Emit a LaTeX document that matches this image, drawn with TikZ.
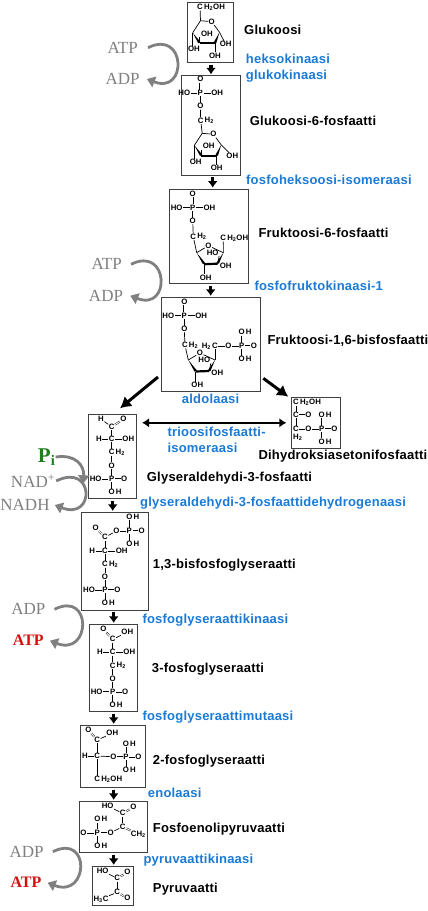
\documentclass[tikz,border=0pt]{standalone}
\usepackage{fontspec}
\setmainfont{Liberation Sans}
\newfontfamily\coffont{Liberation Serif}
\newfontfamily\namefont[LetterSpace=1.7]{Liberation Sans}
\usetikzlibrary{arrows.meta,positioning}
\definecolor{enzblue}{RGB}{26,122,214}
\definecolor{cofgray}{RGB}{128,128,128}
\definecolor{atpred}{RGB}{214,16,16}
\definecolor{pigreen}{RGB}{30,125,30}
\definecolor{boxgray}{RGB}{64,64,64}
\tikzset{
  molbox/.style={draw=boxgray,line width=0.8pt,inner sep=0pt},
  atom/.style={font=\bfseries\fontsize{7.8}{7.8}\selectfont,inner sep=0.4pt},
  bond/.style={line width=0.7pt},
  dbond/.style={line width=0.45pt,double,double distance=1pt},
  wedge/.style={fill=black,line width=0.2pt},
  bold/.style={line width=2.2pt},
  molname/.style={font=\namefont\bfseries\fontsize{13}{13}\selectfont,anchor=west,inner sep=0pt,text height=10.5pt,text depth=2.5pt},
  enzyme/.style={molname,text=enzblue},
  cofactor/.style={font=\coffont\fontsize{17}{17}\selectfont,text=cofgray,inner sep=0pt},
  atpout/.style={font=\coffont\bfseries\fontsize{16}{16}\selectfont,text=atpred,inner sep=0pt},
  cofcurve/.style={draw=cofgray,line width=2.8pt,-{Triangle[length=8pt,width=11pt]}},
  stepto/.style={line width=3.4pt,-{Latex[length=6.5pt,width=10pt]},shorten <=2pt,shorten >=1pt},
  splitto/.style={line width=3pt,-{Latex[length=11pt,width=13pt]}},
  bothto/.style={line width=2.6pt,{Latex[length=7pt,width=9.5pt]}-{Latex[length=7pt,width=9.5pt]}},
  pyranose/.pic={
    \coordinate (c5) at (0.5,0);
    \node[atom] (o) at (11.7,1) {O};
    \coordinate (c1) at (19.5,11.5);
    \coordinate (c2) at (15,22.6);
    \coordinate (c3) at (-0.5,22.6);
    \coordinate (c4) at (-7.3,12);
    \draw[bond] (c4) -- (c5) -- (o) -- (c1);
    \fill[wedge] (c4) -- ([xshift=-1.2]c3) -- ([xshift=1.2,yshift=1]c3) -- cycle;
    \draw[bold] (c3) -- (c2);
    \fill[wedge] (c1) -- ([xshift=1.2]c2) -- ([xshift=-1.2,yshift=1]c2) -- cycle;
    \node[atom] (oha) at (7,13) {OH};
    \node[atom] (ohb) at (-6,28.6) {OH};
    \node[atom] (ohc) at (15,35) {OH};
    \draw[bond] (c3) -- (c3 |- oha.south);
    \draw[bond] (c4) -- (c4 |- ohb.north);
    \draw[bond] (c2) -- (c2 |- ohc.north);
  },
  furanose/.pic={
    \coordinate (cl) at (0,0);
    \node[atom] (o) at (11.6,-7) {O};
    \coordinate (cbl) at (7.4,11.5);
    \coordinate (cbr) at (21,11);
    \coordinate (cr) at (26.7,0);
    \draw[bond] (cl) -- (o) -- (cr);
    \fill[wedge] (cl) -- ([xshift=-1.2]cbl) -- ([xshift=1.2,yshift=1]cbl) -- cycle;
    \draw[bold] (cbl) -- (cbr);
    \fill[wedge] (cr) -- ([xshift=1.2]cbr) -- ([xshift=-1.2,yshift=1]cbr) -- cycle;
    \node[atom] (ho) at (16,0) {HO};
    \node[atom] (oha) at (29,13) {OH};
    \node[atom] (ohb) at (9,25) {OH};
    \draw[bond] (cbr) -- (ho.south east);
    \draw[bond] (cbl) -- (cbl |- ohb.north);
  },
  phoshead/.pic={
    \node[atom] (p) at (0,0) {P};
    \node[atom] (dbo) at (0,-13.7) {O};
    \node[atom] (ho) at (-16,0) {HO};
    \node[atom] (oh) at (16.8,0) {OH};
    \node[atom] (o) at (0,13.3) {O};
    \draw[dbond] (p) -- (dbo);
    \draw[bond] (ho) -- (p);
    \draw[bond] (p) -- (oh);
    \draw[bond] (p) -- (o);
  },
  phostail/.pic={
    \node[atom] (p) at (0,0) {P};
    \node[atom] (o) at (0,-13.3) {O};
    \node[atom] (ho) at (-16,0) {HO};
    \node[atom] (dbo) at (12.5,0) {O};
    \node[atom] (oh) at (0,13.3) {O};
    \node[atom,right=0pt of oh] (ohh) {H};
    \draw[bond] (o) -- (p);
    \draw[bond] (ho) -- (p);
    \draw[dbond] (p) -- (dbo);
    \draw[bond] (p) -- (oh);
  },
}
\begin{document}
\begin{tikzpicture}[x=1pt,y=-1pt]
\useasboundingbox (0,0) rectangle (428,911);
\node[molbox,minimum width=46,minimum height=60] (glc) at (210.3,32.3) {};
\node[molbox,minimum width=59,minimum height=99.3] (gsp) at (211.2,125.4) {};
\node[molbox,minimum width=79,minimum height=94.3] (fsp) at (208.8,236.2) {};
\node[molbox,minimum width=98.6,minimum height=94.4] (fbox) at (211,344.5) {};
\node[molbox,minimum width=49,minimum height=51] (dhap) at (316.2,422.8) {};
\node[molbox,minimum width=48.4,minimum height=84] (gap) at (112.5,456.3) {};
\node[molbox,minimum width=66.6,minimum height=97.7] (bpg) at (115,561.2) {};
\node[molbox,minimum width=48,minimum height=87] (tpg) at (113.3,667.8) {};
\node[molbox,minimum width=65.4,minimum height=62] (dpg) at (113,756.3) {};
\node[molbox,minimum width=68,minimum height=51] (pep) at (113.3,826.8) {};
\node[molbox,minimum width=41.4,minimum height=39] (pyr) at (113,885.8) {};
\node[molname] (nglc) at (244,30) {Glukoosi};
\node[molname] (ngsp) at (249.7,121.3) {Glukoosi-6-fosfaatti};
\node[molname] (nfsp) at (258.3,233.3) {Fruktoosi-6-fosfaatti};
\node[molname] (nfbp) at (267.3,340.7) {Fruktoosi-1,6-bisfosfaatti};
\node[molname] (ndhap) at (258.3,455.3) {Dihydroksiasetonifosfaatti};
\node[molname] (ngap) at (146.7,477.3) {Glyseraldehydi-3-fosfaatti};
\node[molname] (nbpg) at (152.7,564) {1,3-bisfosfoglyseraatti};
\node[molname] (ntpg) at (151.7,668.3) {3-fosfoglyseraatti};
\node[molname] (ndpg) at (152.7,760) {2-fosfoglyseraatti};
\node[molname] (npep) at (152.7,828.3) {Fosfoenolipyruvaatti};
\node[molname] (npyr) at (152.7,888.3) {Pyruvaatti};
\node[enzyme] (eheks) at (245.7,59.3) {heksokinaasi};
\node[enzyme] (egluk) at (245.7,75.7) {glukokinaasi};
\node[enzyme] (efhi) at (246,180) {fosfoheksoosi-isomeraasi};
\node[enzyme] (efk) at (254.3,286.7) {fosfofruktokinaasi-1};
\node[enzyme] (eald) at (181.7,399) {aldolaasi};
\node[enzyme] (etia) at (167.3,432.3) {trioosifosfaatti-};
\node[enzyme] (etib) at (167.3,448.3) {isomeraasi};
\node[enzyme] (egapd) at (140,502.7) {glyseraldehydi-3-fosfaattidehydrogenaasi};
\node[enzyme] (epgk) at (142.3,619) {fosfoglyseraattikinaasi};
\node[enzyme] (epgm) at (142.3,716) {fosfoglyseraattimutaasi};
\node[enzyme] (eeno) at (147.7,793.3) {enolaasi};
\node[enzyme] (epk) at (143.3,859.3) {pyruvaattikinaasi};
\foreach \a/\b/\x in {glc/gsp/211,gsp/fsp/212.7,fsp/fbox/210.7,gap/bpg/112.7,bpg/tpg/113.7,tpg/dpg/113.7,dpg/pep/113.7,pep/pyr/113.7}
  \draw[stepto] (\x,0 |- \a.south) -- (\x,0 |- \b.north);
\coordinate (splitl) at (158,377);
\coordinate (splitr) at (263.3,378.3);
\draw[splitto] (splitl) -- (120,408.3);
\draw[splitto] (splitr) -- (288.3,396.7);
\draw[bothto,shorten <=5pt,shorten >=5pt] (gap.east |- dhap.west) -- (dhap.west);
\node[cofactor] (atpa) at (122.7,47.7) {ATP};
\node[cofactor] (adpa) at (122.7,79) {ADP};
\node[cofactor] (atpb) at (106.7,264.3) {ATP};
\node[cofactor] (adpb) at (106,295.7) {ADP};
\node[cofactor,text=pigreen,font=\coffont\bfseries\fontsize{21}{21}\selectfont] (pin) at (46.7,457) {P\textsubscript{i}};
\node[cofactor] (nad) at (33,481) {NAD\textsuperscript{+}};
\node[cofactor] (nadh) at (25,505) {NADH};
\node[cofactor] (adpc) at (28.3,609.3) {ADP};
\node[atpout] (atpc) at (28.3,640.7) {ATP};
\node[cofactor] (adpd) at (26.7,851.7) {ADP};
\node[atpout] (atpd) at (26,882.7) {ATP};
\foreach \a/\b/\sa/\sb in {atpa/adpa/10/7,atpb/adpb/9/7,nad/nadh/1/5,adpc/atpc/9/6,adpd/atpd/9/6}
  \draw[cofcurve] ([xshift=\sa]\a.east) .. controls +(38,-19) and +(41,16) .. ([xshift=\sb]\b.east);
\coordinate (pitip) at (83.3,483.3);
\draw[cofcurve] (pin.east) .. controls +(20,-3) and +(1,-18) .. (pitip);
\pic (ga) at (200,20.7) {pyranose};
\node[atom] (gac) at (200,7) {C};
\node[atom,right=0pt of gac] (gah) {H\textsubscript{2}OH};
\node[atom] (gaoh) at (225.7,44.3) {OH};
\draw[bond] (gac5) -- (gac);
\draw[bond] (gac1) -- (gaoh);
\pic (gb) at (200.3,93) {phoshead};
\node[atom] (gbc) at (200.7,120.7) {C};
\node[atom,right=0pt of gbc] (gbh) {H\textsubscript{2}};
\pic (gbr) at (201.7,133.3) {pyranose};
\node[atom] (gbs) at (232.3,156) {OH};
\draw[bond] (gbo) -- (gbc);
\draw[bond] (gbc) -- (gbrc5);
\draw[bond] (gbrc1) -- (gbs);
\pic (fa) at (192.7,207.7) {phoshead};
\node[atom] (fac) at (193.3,236.7) {C};
\node[atom,right=0pt of fac] (fah) {H\textsubscript{2}};
\pic (far) at (196.7,252.7) {furanose};
\node[atom] (fad) at (223.3,238.3) {C};
\node[atom,right=0pt of fad] (fae) {H\textsubscript{2}OH};
\draw[bond] (fao) -- (fac);
\draw[bond] (fac) -- (farcl);
\draw[bond] (farcr) -- (fad);
\pic (fc) at (184.3,315.7) {phoshead};
\node[atom] (fbc) at (184.9,345) {C};
\node[atom,right=0pt of fbc] (fbh) {H\textsubscript{2}};
\pic (fbr) at (188.3,360) {furanose};
\node[atom] (fbd) at (215,346) {C};
\node[atom,left=0pt of fbd] (fbe) {H\textsubscript{2}};
\node[atom] (fbo) at (228.3,346) {O};
\node[atom] (fbp) at (241.7,346) {P};
\node[atom] (fbq) at (254,346) {O};
\node[atom] (fbs) at (241.7,332.3) {O};
\node[atom,right=0pt of fbs] (fbt) {H};
\node[atom] (fbu) at (241.7,359) {O};
\node[atom,right=0pt of fbu] (fbv) {H};
\draw[bond] (fco) -- (fbc);
\draw[bond] (fbc) -- (fbrcl);
\draw[bond] (fbrcr) -- (fbd);
\draw[bond] (fbd) -- (fbo);
\draw[bond] (fbo) -- (fbp);
\draw[dbond] (fbp) -- (fbq);
\draw[bond] (fbs) -- (fbp);
\draw[bond] (fbp) -- (fbu);
\node[atom] (dc) at (296,402.3) {C};
\node[atom,right=0pt of dc] (dh) {H\textsubscript{2}OH};
\node[atom] (dd) at (296,415) {C};
\node[atom] (de) at (308.3,415) {O};
\node[atom] (df) at (321.7,415) {O};
\node[atom,right=0pt of df] (dfh) {H};
\node[atom] (dg) at (296,429) {C};
\node[atom] (dgh) at (297.7,437.7) {H\textsubscript{2}};
\node[atom] (do) at (308.3,429) {O};
\node[atom] (dp) at (321.7,429) {P};
\node[atom] (dq) at (334.3,429) {O};
\node[atom] (dr) at (321.7,441.7) {O};
\node[atom,right=0pt of dr] (drh) {H};
\draw[bond] (dc) -- (dd);
\draw[dbond] (dd) -- (de);
\draw[bond] (dd) -- (dg);
\draw[bond] (dg) -- (do);
\draw[bond] (do) -- (dp);
\draw[dbond] (dp) -- (dq);
\draw[bond] (df) -- (dp);
\draw[bond] (dp) -- (dr);
\node[atom] (hy) at (101,419.3) {H};
\node[atom] (hz) at (123.3,419.3) {O};
\node[atom] (hc) at (111.7,426.7) {C};
\node[atom] (hh) at (99,439) {H};
\node[atom] (hd) at (111.7,439) {C};
\node[atom] (hoh) at (128.3,439) {OH};
\node[atom] (he) at (111.7,452.3) {C};
\node[atom,right=0pt of he] (heh) {H\textsubscript{2}};
\pic (ht) at (111.7,479) {phostail};
\draw[bond] (hy) -- (hc);
\draw[dbond] (hc) -- (hz);
\draw[bond] (hc) -- (hd);
\draw[bond] (hh) -- (hd);
\draw[bond] (hd) -- (hoh);
\draw[bond] (hd) -- (he);
\draw[bond] (he) -- (hto);
\node[atom] (bz) at (95.7,527.7) {O};
\node[atom] (bc) at (105,537.3) {C};
\node[atom] (bo) at (116.3,531) {O};
\node[atom] (bp) at (129.3,531) {P};
\node[atom] (bq) at (141.7,531) {O};
\node[atom] (br) at (129.3,516.7) {O};
\node[atom,right=0pt of br] (brh) {H};
\node[atom] (bs) at (129.3,544) {O};
\node[atom,right=0pt of bs] (bsh) {H};
\node[atom] (bh) at (92.3,551) {H};
\node[atom] (bd) at (105,551) {C};
\node[atom] (boh) at (121.7,551) {OH};
\node[atom] (be) at (105,564.3) {C};
\node[atom,right=0pt of be] (beh) {H\textsubscript{2}};
\pic (bt) at (105,590) {phostail};
\draw[dbond] (bc) -- (bz);
\draw[bond] (bc) -- (bo);
\draw[bond] (bo) -- (bp);
\draw[dbond] (bp) -- (bq);
\draw[bond] (br) -- (bp);
\draw[bond] (bp) -- (bs);
\draw[bond] (bc) -- (bd);
\draw[bond] (bh) -- (bd);
\draw[bond] (bd) -- (boh);
\draw[bond] (bd) -- (be);
\draw[bond] (be) -- (bto);
\node[atom] (tz) at (103.3,629.3) {O};
\node[atom] (ty) at (127.3,632.3) {OH};
\node[atom] (tc) at (112.7,639.3) {C};
\node[atom] (th) at (100,652.3) {H};
\node[atom] (td) at (112.7,652.3) {C};
\node[atom] (toh) at (129.3,652.3) {OH};
\node[atom] (te) at (112.7,665.7) {C};
\node[atom,right=0pt of te] (teh) {H\textsubscript{2}};
\pic (tt) at (112.7,691.7) {phostail};
\draw[dbond] (tc) -- (tz);
\draw[bond] (tc) -- (ty);
\draw[bond] (tc) -- (td);
\draw[bond] (th) -- (td);
\draw[bond] (td) -- (toh);
\draw[bond] (td) -- (te);
\draw[bond] (te) -- (tto);
\node[atom] (sz) at (88.3,730) {O};
\node[atom] (sy) at (112.3,733.3) {OH};
\node[atom] (sc) at (97.3,740) {C};
\node[atom] (sh) at (85,756) {H};
\node[atom] (sd) at (97.3,756) {C};
\node[atom] (so) at (113.3,756.7) {O};
\node[atom] (sp) at (126,756.7) {P};
\node[atom] (sq) at (138.3,756.7) {O};
\node[atom] (sr) at (126,744) {O};
\node[atom,right=0pt of sr] (srh) {H};
\node[atom] (ss) at (126,770) {O};
\node[atom,right=0pt of ss] (ssh) {H};
\node[atom] (se) at (97.3,779) {C};
\node[atom,right=0pt of se] (seh) {H\textsubscript{2}OH};
\draw[dbond] (sc) -- (sz);
\draw[bond] (sc) -- (sy);
\draw[bond] (sc) -- (sd);
\draw[bond] (sh) -- (sd);
\draw[bond] (sd) -- (so);
\draw[bond] (so) -- (sp);
\draw[dbond] (sp) -- (sq);
\draw[bond] (sr) -- (sp);
\draw[bond] (sp) -- (ss);
\draw[bond] (sd) -- (se);
\node[atom] (eho) at (107.7,806) {HO};
\node[atom] (ec) at (122.7,813.3) {C};
\node[atom] (ez) at (133.3,807.3) {O};
\node[atom] (er) at (97.3,819.3) {O};
\node[atom,right=0pt of er] (erh) {H};
\node[atom] (ep) at (97.3,832.7) {P};
\node[atom] (eq) at (83.3,832.7) {O};
\node[atom] (eo) at (110.7,832.7) {O};
\node[atom] (ed) at (122.7,826.7) {C};
\node[atom] (ee) at (138.3,834.3) {CH\textsubscript{2}};
\node[atom] (es) at (97.3,846) {O};
\node[atom,right=0pt of es] (esh) {H};
\draw[bond] (eho) -- (ec);
\draw[dbond] (ec) -- (ez);
\draw[bond] (ec) -- (ed);
\draw[bond] (er) -- (ep);
\draw[dbond] (eq) -- (ep);
\draw[bond] (ep) -- (eo);
\draw[bond] (ep) -- (es);
\draw[bond] (eo) -- (ed);
\draw[dbond] (ed) -- (ee);
\node[atom] (yho) at (102.7,871) {HO};
\node[atom] (yc) at (117.3,878.3) {C};
\node[atom] (yz) at (127.3,872.3) {O};
\node[atom] (yd) at (117.3,892.3) {C};
\node[atom] (yq) at (127.3,898.3) {O};
\node[atom] (ye) at (101,899) {H\textsubscript{3}C};
\draw[bond] (yho) -- (yc);
\draw[dbond] (yc) -- (yz);
\draw[bond] (yc) -- (yd);
\draw[dbond] (yd) -- (yq);
\draw[bond] (yd) -- (ye);
\end{tikzpicture}
\end{document}
